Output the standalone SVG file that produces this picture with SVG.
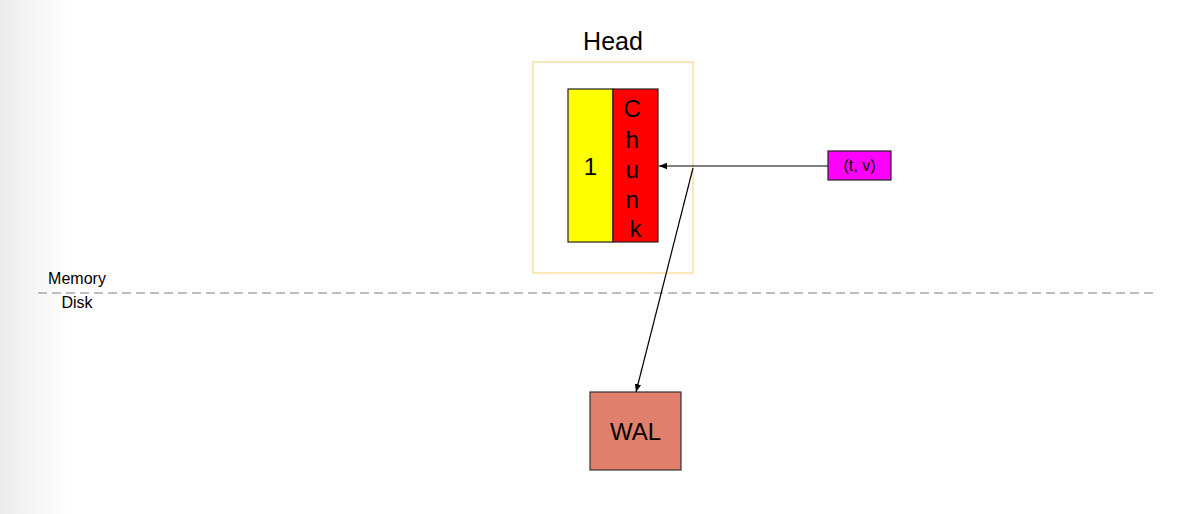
<svg xmlns="http://www.w3.org/2000/svg" width="1194" height="514" viewBox="0 0 1194 514">
<defs>
<linearGradient id="bg" x1="0" y1="0" x2="1" y2="0">
<stop offset="0" stop-color="#ececec"/>
<stop offset="1" stop-color="#ffffff"/>
</linearGradient>
<marker id="arr" viewBox="0 0 10 10" refX="10" refY="5" markerWidth="8" markerHeight="8" markerUnits="userSpaceOnUse" orient="auto">
<path d="M0,1 L10,5 L0,9 Z" fill="#000"/>
</marker>
<style>
text { font-family: "Liberation Sans", Arial, sans-serif; fill: #000; }
.big { font-size: 24px; }
.small { font-size: 16px; }
.conn { stroke: #000; stroke-width: 1.2; fill: none; }
</style>
</defs>
<rect x="0" y="0" width="1194" height="514" fill="#fff"/>
<rect x="0" y="0" width="70" height="514" fill="url(#bg)"/>

<g id="divider">
<line x1="38" y1="293" x2="1156" y2="293" stroke="#a8a8a8" stroke-width="1.3" stroke-dasharray="9,5"/>
<text class="small" x="77" y="284" text-anchor="middle">Memory</text>
<text class="small" x="77" y="308" text-anchor="middle">Disk</text>
</g>

<g id="head">
<rect x="533" y="62" width="160" height="211" fill="none" stroke="#f7d78c" stroke-width="1.2"/>
<text x="613" y="50" text-anchor="middle" font-size="25">Head</text>
</g>

<g id="series-id">
<rect x="568" y="89" width="45" height="153" fill="#ffff00" stroke="#222" stroke-width="1.2"/>
<text class="big" x="590.5" y="175" text-anchor="middle">1</text>
</g>

<g id="chunk">
<rect x="613" y="89" width="45" height="153" fill="#ff0000" stroke="#222" stroke-width="1.2"/>
<text class="big" text-anchor="middle">
<tspan x="635.5" y="117">C</tspan>
<tspan x="635.5" y="148">h</tspan>
<tspan x="635.5" y="178">u</tspan>
<tspan x="635.5" y="208">n</tspan>
<tspan x="635.5" y="237">k</tspan>
</text>
</g>

<g id="sample">
<rect x="828" y="151" width="63" height="29" fill="#ff00ff" stroke="#222" stroke-width="1.2"/>
<text x="859.5" y="171" text-anchor="middle" font-size="16">(t, v)</text>
</g>

<g id="wal">
<rect x="590" y="392" width="91" height="78" fill="#e07f6c" stroke="#333" stroke-width="1.2"/>
<text class="big" x="635.5" y="440" text-anchor="middle">WAL</text>
</g>

<g id="connectors">
<line class="conn" x1="828" y1="166" x2="659" y2="166" marker-end="url(#arr)"/>
<line class="conn" x1="693" y1="168" x2="636" y2="392" marker-end="url(#arr)"/>
</g>
</svg>
